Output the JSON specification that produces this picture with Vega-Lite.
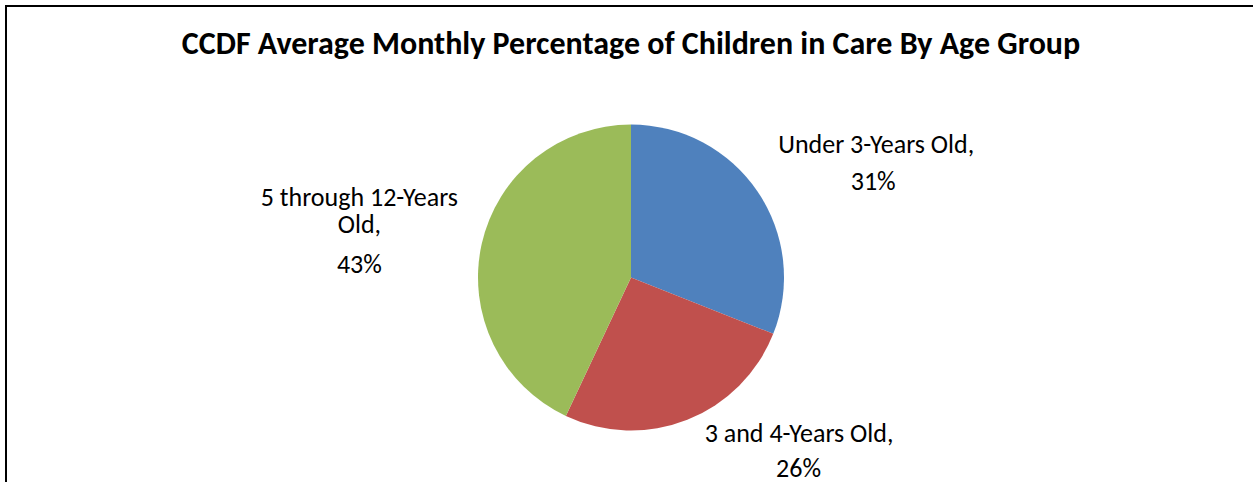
{
  "$schema": "https://vega.github.io/schema/vega-lite/v6.json",
  "autosize": {"type": "none"},
  "padding": {"left": 6, "top": 6, "right": 0, "bottom": 0},
  "width": 1250,
  "height": 543,
  "background": "white",
  "view": {"stroke": "#000000", "strokeWidth": 2},
  "title": {
    "text": "CCDF Average Monthly Percentage of Children in Care By Age Group",
    "font": "Carlito, Calibri, Lato, sans-serif",
    "fontSize": 32,
    "fontWeight": "bold",
    "color": "#000000",
    "anchor": "middle",
    "baseline": "alphabetic",
    "offset": -80
  },
  "data": {
    "values": [
      {"group": "Under 3-Years Old", "name": "Under 3-Years Old,", "pct": "31%", "value": 31, "order": 1},
      {"group": "3 and 4-Years Old", "name": "3 and 4-Years Old,", "pct": "26%", "value": 26, "order": 2},
      {"group": "5 through 12-Years Old", "name": "5 through 12-Years\nOld,", "pct": "43%", "value": 43, "order": 3}
    ]
  },
  "encoding": {
    "theta": {"field": "value", "type": "quantitative", "stack": true},
    "order": {"field": "order", "type": "quantitative"},
    "detail": {"field": "group", "type": "nominal"}
  },
  "layer": [
    {
      "mark": {"type": "arc", "outerRadius": 153},
      "encoding": {
        "color": {
          "field": "group",
          "type": "nominal",
          "scale": {
            "domain": ["Under 3-Years Old", "3 and 4-Years Old", "5 through 12-Years Old"],
            "range": ["#4F81BD", "#C0504D", "#9BBB59"]
          },
          "legend": null
        }
      }
    },
    {
      "mark": {"type": "text", "radius": 265, "dx": 26, "dy": 24.5, "font": "Carlito, Calibri, Lato, sans-serif", "fontSize": 26, "align": "center", "baseline": "alphabetic", "lineBreak": "\n", "lineHeight": 27, "color": "#000000"},
      "encoding": {"text": {"condition": {"test": "datum.order === 1", "field": "name"}, "value": ""}}
    },
    {
      "mark": {"type": "text", "radius": 265, "dx": 23, "dy": 61.5, "font": "Carlito, Calibri, Lato, sans-serif", "fontSize": 26, "align": "center", "baseline": "alphabetic", "color": "#000000"},
      "encoding": {"text": {"condition": {"test": "datum.order === 1", "field": "pct"}, "value": ""}}
    },
    {
      "mark": {"type": "text", "radius": 265, "dx": 70.5, "dy": -82, "font": "Carlito, Calibri, Lato, sans-serif", "fontSize": 26, "align": "center", "baseline": "alphabetic", "lineBreak": "\n", "lineHeight": 27, "color": "#000000"},
      "encoding": {"text": {"condition": {"test": "datum.order === 2", "field": "name"}, "value": ""}}
    },
    {
      "mark": {"type": "text", "radius": 265, "dx": 70, "dy": -47, "font": "Carlito, Calibri, Lato, sans-serif", "fontSize": 26, "align": "center", "baseline": "alphabetic", "color": "#000000"},
      "encoding": {"text": {"condition": {"test": "datum.order === 2", "field": "pct"}, "value": ""}}
    },
    {
      "mark": {"type": "text", "radius": 265, "dx": -13, "dy": -13.5, "font": "Carlito, Calibri, Lato, sans-serif", "fontSize": 26, "align": "center", "baseline": "alphabetic", "lineBreak": "\n", "lineHeight": 27, "color": "#000000"},
      "encoding": {"text": {"condition": {"test": "datum.order === 3", "field": "name"}, "value": ""}}
    },
    {
      "mark": {"type": "text", "radius": 265, "dx": -13, "dy": 53.5, "font": "Carlito, Calibri, Lato, sans-serif", "fontSize": 26, "align": "center", "baseline": "alphabetic", "color": "#000000"},
      "encoding": {"text": {"condition": {"test": "datum.order === 3", "field": "pct"}, "value": ""}}
    }
  ]
}
